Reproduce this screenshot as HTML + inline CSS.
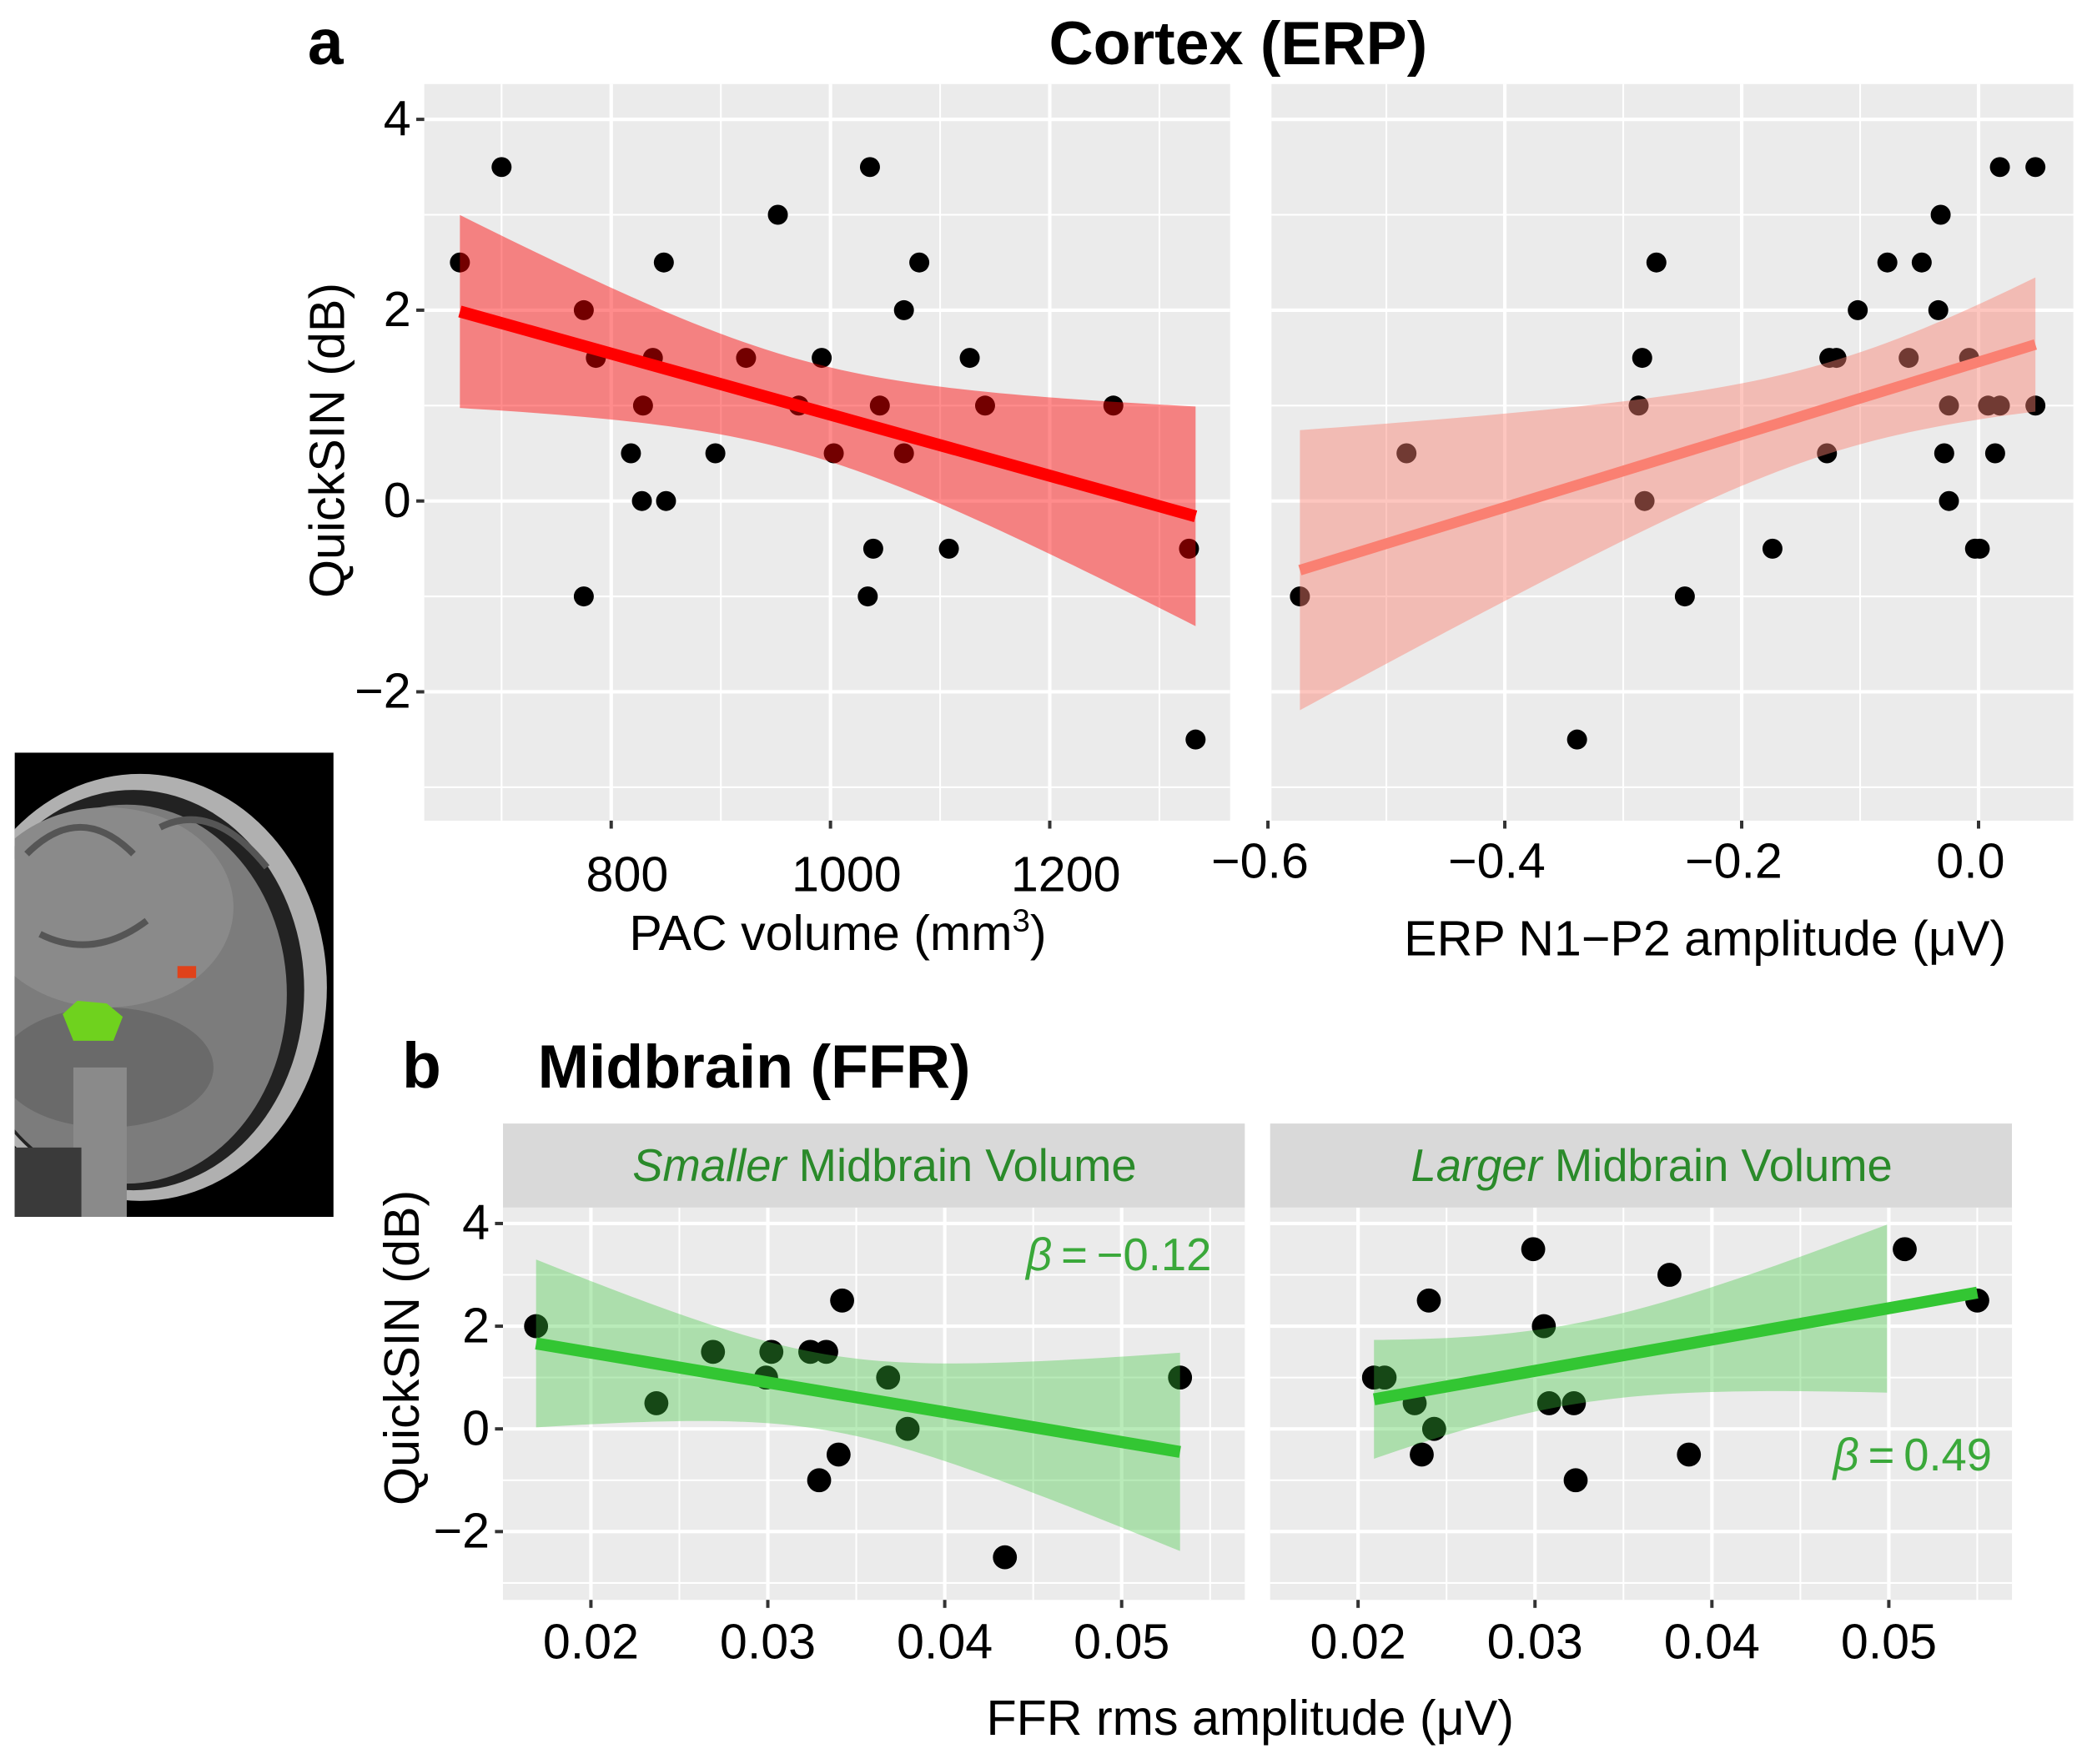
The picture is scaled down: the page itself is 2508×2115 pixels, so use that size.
<!DOCTYPE html>
<html><head><meta charset="utf-8"><style>
html,body{margin:0;padding:0;background:#fff}
svg{display:block}
text{font-family:"Liberation Sans",Arial,sans-serif}
</style></head><body>
<svg id="fig" xmlns="http://www.w3.org/2000/svg" width="2508" height="2115" viewBox="0 0 1568 1322" preserveAspectRatio="none">
<defs><clipPath id="brainclip"><rect x="11" y="564" width="239" height="348"/></clipPath></defs>
<g id="brain" clip-path="url(#brainclip)">
 <rect x="11" y="564" width="239" height="348" fill="#000"/>
 <ellipse cx="105" cy="740" rx="140" ry="160" fill="#b0b0b0"/>
 <ellipse cx="100" cy="742" rx="128" ry="150" fill="#222"/>
 <ellipse cx="95" cy="745" rx="120" ry="142" fill="#7c7c7c"/>
 <ellipse cx="80" cy="680" rx="95" ry="75" fill="#8a8a8a"/>
 <path d="M20,640 Q60,600 100,640 M120,620 Q160,600 200,650 M30,700 Q70,720 110,690" stroke="#555" stroke-width="5" fill="none"/>
 <ellipse cx="80" cy="800" rx="80" ry="45" fill="#6a6a6a"/>
 <rect x="55" y="800" width="40" height="112" fill="#8a8a8a"/>
 <rect x="11" y="860" width="50" height="52" fill="#3a3a3a"/>
 <polygon points="47,760 58,750 80,752 92,762 85,780 55,780" fill="#6fd21e"/>
 <rect x="133" y="724" width="14" height="9" fill="#e0421a"/>
</g>
<g id="chart"></g>
</svg>
<script>
// ---------- DATA ----------
const pacVolume = [662,700,775,775,786,818,828,829,838,848,850,895,923,952,971,992,1003,1034,1036,1039,1045,1067,1067,1081,1108,1127,1141,1258,1327,1333];
const pacQuick  = [2.5,3.5,2,-1,1.5,0.5,0,1,1.5,2.5,0,0.5,1.5,3,1,1.5,0.5,-1,3.5,-0.5,1,2,0.5,2.5,-0.5,1.5,1,1,-0.5,-2.5];
const erpAmp    = [-0.573,-0.483,-0.287,-0.284,-0.282,-0.272,-0.339,-0.248,-0.174,-0.128,-0.126,-0.120,-0.102,-0.077,-0.059,-0.048,-0.034,-0.032,-0.029,-0.025,-0.025,-0.008,-0.003,0.001,0.008,0.014,0.018,0.018,0.048,0.048];
const erpQuick  = [-1,0.5,1,1.5,0,2.5,-2.5,-1,-0.5,0.5,1.5,1.5,2,2.5,1.5,2.5,2,3,0.5,1,0,1.5,-0.5,-0.5,1,0.5,3.5,1,3.5,1];
const ffrSmall  = [0.0169,0.0237,0.0269,0.0299,0.0302,0.0324,0.0333,0.0329,0.0340,0.0342,0.0368,0.0379,0.0434,0.0533];
const qSmall    = [2,0.5,1.5,1,1.5,1.5,1.5,-1,-0.5,2.5,1,0,-2.5,1];
const ffrLarge  = [0.0209,0.0215,0.0232,0.0236,0.0240,0.0243,0.0299,0.0305,0.0308,0.0322,0.0323,0.0376,0.0387,0.0509,0.0550];
const qLarge    = [1,1,0.5,-0.5,2.5,0,3.5,2,0.5,0.5,-1,3,-0.5,3.5,2.5];
const yTicks = [-2,0,2,4];
const pacTicks = [800,1000,1200];
const erpTicks = [-0.6,-0.4,-0.2,0.0];
const erpTickLabels = ["\u22120.6","\u22120.4","\u22120.2","0.0"];
const ffrTicks = [0.02,0.03,0.04,0.05];
const betaLabels = ["\u2009=\u2009\u22120.12","\u2009=\u20090.49"];

// ---------- HELPERS ----------
const NS="http://www.w3.org/2000/svg";
const root=document.getElementById('chart');
function mk(tag,attrs,parent,txt){const e=document.createElementNS(NS,tag);for(const k in attrs)e.setAttribute(k,attrs[k]);if(txt!==undefined)e.textContent=txt;(parent||root).appendChild(e);return e;}
function lm(xs,ys){const n=xs.length;const xm=xs.reduce((a,b)=>a+b)/n,ym=ys.reduce((a,b)=>a+b)/n;let sxx=0,sxy=0;for(let i=0;i<n;i++){sxx+=(xs[i]-xm)**2;sxy+=(xs[i]-xm)*(ys[i]-ym);}const b=sxy/sxx,a=ym-b*xm;let sse=0;for(let i=0;i<n;i++)sse+=(ys[i]-a-b*xs[i])**2;const s=Math.sqrt(sse/(n-2));const t=1.96+2.4/(n-2);return{a,b,ci:x=>t*s*Math.sqrt(1/n+(x-xm)**2/sxx)};}

function panel(o){
 const g=mk('g',{});
 
 
 const X=v=>o.x0+(v-o.xd0)*(o.x1-o.x0)/(o.xd1-o.xd0);
 const Y=v=>o.y0+(v-o.yd0)*(o.y1-o.y0)/(o.yd1-o.yd0);
 const bg=mk('rect',{x:o.x0,y:o.y1,width:o.x1-o.x0,height:o.y0-o.y1,fill:'#ebebeb'},g);
 
 
 o.minorX.forEach(v=>mk('line',{x1:X(v),x2:X(v),y1:o.y1,y2:o.y0,stroke:'#fff','stroke-width':1.3},g));
 [-3,-1,1,3].forEach(v=>mk('line',{x1:o.x0,x2:o.x1,y1:Y(v),y2:Y(v),stroke:'#fff','stroke-width':1.3},g));
 o.majorX.forEach(v=>mk('line',{x1:X(v),x2:X(v),y1:o.y1,y2:o.y0,stroke:'#fff','stroke-width':2.6},g));
 yTicks.forEach(v=>mk('line',{x1:o.x0,x2:o.x1,y1:Y(v),y2:Y(v),stroke:'#fff','stroke-width':2.6},g));
 o.ticks.forEach((v,i)=>{mk('line',{x1:X(v),x2:X(v),y1:o.y0,y2:o.y0+6,stroke:'#333','stroke-width':2.5},g);
  const t=mk('text',{x:X(v)+(o.lblOff||0),y:o.tickY,'text-anchor':'middle','font-size':o.tfs,fill:'#000'},g,o.labels[i]);
  
  });
 if(o.yAxis){yTicks.forEach(v=>{mk('line',{x1:o.x0-6,x2:o.x0,y1:Y(v),y2:Y(v),stroke:'#333','stroke-width':2.5},g);
  const t=mk('text',{x:o.x0-10,y:Y(v)+12,'text-anchor':'end','font-size':o.tfs,fill:'#000'},g,v<0?'\u2212'+(-v):String(v));
  
  });}
 o.xs.forEach((xv,i)=>{const c=mk('circle',{cx:X(xv),cy:Y(o.ys[i]),r:o.r,fill:'#000'},g);
  
  });
 const f=lm(o.xs,o.ys);const xmin=Math.min(...o.xs),xmax=Math.max(...o.xs);const bEnd=o.bandEnd!==undefined?o.bandEnd:xmax;
 let up=[],lo=[];for(let k=0;k<=60;k++){const xv=xmin+(bEnd-xmin)*k/60;const yh=f.a+f.b*xv;const c=f.ci(xv);up.push(X(xv)+','+Y(yh+c));lo.unshift(X(xv)+','+Y(yh-c));}
 const band=mk('polygon',{points:up.concat(lo).join(' '),fill:o.band},g);
 
 
 const ln=mk('line',{x1:X(xmin),y1:Y(f.a+f.b*xmin),x2:X(xmax),y2:Y(f.a+f.b*xmax),stroke:o.line,'stroke-width':o.lw},g);
 
 
 return {X,Y};
}
panel({name:'panel-pac-volume',x0:318,x1:922,y0:615,y1:63,xd0:629.5,xd1:1364.5,yd0:-3.35,yd1:4.37,
 minorX:[700,900,1100,1300],majorX:pacTicks,ticks:pacTicks,labels:pacTicks.map(String),lblOff:12,tickY:668,tfs:37,yAxis:true,
 xs:pacVolume,ys:pacQuick,r:7.5,band:'rgba(255,0,0,0.45)',line:'#ff0000',lw:9});
panel({name:'panel-erp-amplitude',x0:953,x1:1554,y0:615,y1:63,xd0:-0.597,xd1:0.080,yd0:-3.35,yd1:4.37,
 minorX:[-0.5,-0.3,-0.1],majorX:[-0.4,-0.2,0.0],ticks:erpTicks,labels:erpTickLabels,lblOff:-6,tickY:658,tfs:37,yAxis:false,
 xs:erpAmp,ys:erpQuick,r:7.5,band:'rgba(250,128,114,0.45)',line:'#fa8072',lw:8});
panel({name:'panel-smaller-midbrain',x0:377,x1:933,y0:1199,y1:905,xd0:0.01503,xd1:0.05696,yd0:-3.33,yd1:4.31,
 minorX:[0.025,0.035,0.045,0.055],majorX:ffrTicks,ticks:ffrTicks,labels:ffrTicks.map(v=>v.toFixed(2)),tickY:1243,tfs:37,yAxis:true,
 xs:ffrSmall,ys:qSmall,r:9,band:'rgba(60,200,60,0.36)',line:'#33c633',lw:9});
panel({name:'panel-larger-midbrain',x0:952,x1:1508,y0:1199,y1:905,xd0:0.01503,xd1:0.05696,yd0:-3.33,yd1:4.31,
 minorX:[0.025,0.035,0.045,0.055],majorX:ffrTicks,ticks:ffrTicks,labels:ffrTicks.map(v=>v.toFixed(2)),tickY:1243,tfs:37,yAxis:false,
 xs:ffrLarge,ys:qLarge,r:9,band:'rgba(60,200,60,0.36)',line:'#33c633',lw:9,bandEnd:0.0499});
</script>
<script>
(function(){
const NS="http://www.w3.org/2000/svg";const root=document.getElementById('chart');
function T(x,y,txt,attrs,name){const e=document.createElementNS(NS,'text');e.setAttribute('x',x);e.setAttribute('y',y);for(const k in attrs)e.setAttribute(k,attrs[k]);e.innerHTML=txt;


root.appendChild(e);return e;}
function R(x,y,w,h,fill,name){const e=document.createElementNS(NS,'rect');e.setAttribute('x',x);e.setAttribute('y',y);e.setAttribute('width',w);e.setAttribute('height',h);e.setAttribute('fill',fill);


root.appendChild(e);}
T(244,48,'a',{'font-size':48,'font-weight':'bold','text-anchor':'middle'},'panel-a-label');
T(928,48,'Cortex (ERP)',{'font-size':46,'font-weight':'bold','text-anchor':'middle'},'panel-a-title');
T(258,330,'QuickSIN (dB)',{'font-size':37,'text-anchor':'middle',transform:'rotate(-90 258 330)'},'y-axis-title-a');
T(628,712,'PAC volume (mm<tspan dy="-14" font-size="24">3</tspan><tspan dy="14">)</tspan>',{'font-size':37,'text-anchor':'middle'},'x-axis-title-pac');
T(1278,716,'ERP N1\u2212P2 amplitude (\u03bcV)',{'font-size':37,'text-anchor':'middle'},'x-axis-title-erp');
T(316,815,'b',{'font-size':48,'font-weight':'bold','text-anchor':'middle'},'panel-b-label');
T(403,815,'Midbrain (FFR)',{'font-size':46,'font-weight':'bold'},'panel-b-title');
R(377,842,556,63,'#d9d9d9','strip-smaller');
R(952,842,556,63,'#d9d9d9','strip-larger');
T(663,885,'<tspan font-style="italic">Smaller</tspan> Midbrain Volume',{'font-size':34,fill:'#2a8a2a','text-anchor':'middle'},'strip-label-smaller');
T(1238,885,'<tspan font-style="italic">Larger</tspan> Midbrain Volume',{'font-size':34,fill:'#2a8a2a','text-anchor':'middle'},'strip-label-larger');
T(314,1010,'QuickSIN (dB)',{'font-size':37,'text-anchor':'middle',transform:'rotate(-90 314 1010)'},'y-axis-title-b');
T(908,952,'<tspan font-style="italic">\u03b2</tspan>'+betaLabels[0],{'font-size':34,fill:'#3aa83a','text-anchor':'end'},'beta-smaller');
T(1493,1102,'<tspan font-style="italic">\u03b2</tspan>'+betaLabels[1],{'font-size':34,fill:'#3aa83a','text-anchor':'end'},'beta-larger');
T(937,1300,'FFR rms amplitude (\u03bcV)',{'font-size':37,'text-anchor':'middle'},'x-axis-title-ffr');
})();
</script>
</body></html>
